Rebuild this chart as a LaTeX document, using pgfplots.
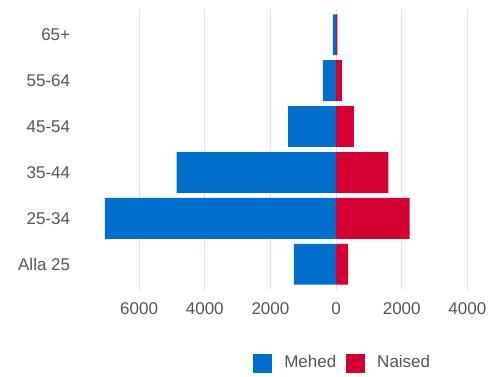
\documentclass[border=0pt]{standalone}
\usepackage{pgfplots}
\pgfplotsset{compat=1.18}
\usepackage{fontspec}
\setmainfont{Liberation Sans}
\definecolor{menblue}{RGB}{0,110,205}
\definecolor{womenred}{RGB}{213,0,50}
\definecolor{gridgrey}{RGB}{225,225,225}
\definecolor{labgrey}{RGB}{85,85,85}
\begin{document}
\fontsize{17}{20}\selectfont
\begin{tikzpicture}[x=1pt,y=1pt]
\path[use as bounding box] (0,0) rectangle (489,376);
\begin{axis}[
  at={(103pt,86pt)}, anchor=south west,
  width=377.5pt, height=281pt, scale only axis,
  xbar, bar shift=0pt, bar width=0.89,
  xmin=-7100, xmax=4400,
  ymin=-0.56, ymax=5.56,
  axis line style={draw=none},
  major tick length=0pt,
  xtick={-6000,-4000,-2000,0,2000,4000},
  xticklabels={6000,4000,2000,0,2000,4000},
  ytick={0,1,2,3,4,5},
  yticklabels={Alla 25,25-34,35-44,45-54,55-64,65+},
  xmajorgrids, grid style={gridgrey, line width=0.8pt},
  tick label style={font=\fontsize{17}{20}\selectfont, text=labgrey},
  /pgf/number format/assume math mode=true,
  yticklabel style={xshift=-27pt},
  xticklabel style={yshift=-7pt},
  legend style={at={(0.635,-0.26)}, anchor=center, draw=none, fill=none,
    legend columns=2, font=\fontsize{17}{20}\selectfont, text=labgrey,
    /tikz/every even column/.append style={column sep=8pt}},
  legend image code/.code={\fill[#1] (0pt,-9.5pt) rectangle (19pt,9.5pt); \path (29pt,0pt);},
]
\addplot[fill=menblue, draw=none] coordinates {
  (-1285,0) (-7040,1) (-4860,2) (-1460,3) (-405,4) (-100,5)};
\addlegendentry{Mehed}
\addplot[fill=womenred, draw=none] coordinates {
  (365,0) (2240,1) (1590,2) (540,3) (180,4) (40,5)};
\addlegendentry{Naised}
\end{axis}
\end{tikzpicture}
\end{document}
